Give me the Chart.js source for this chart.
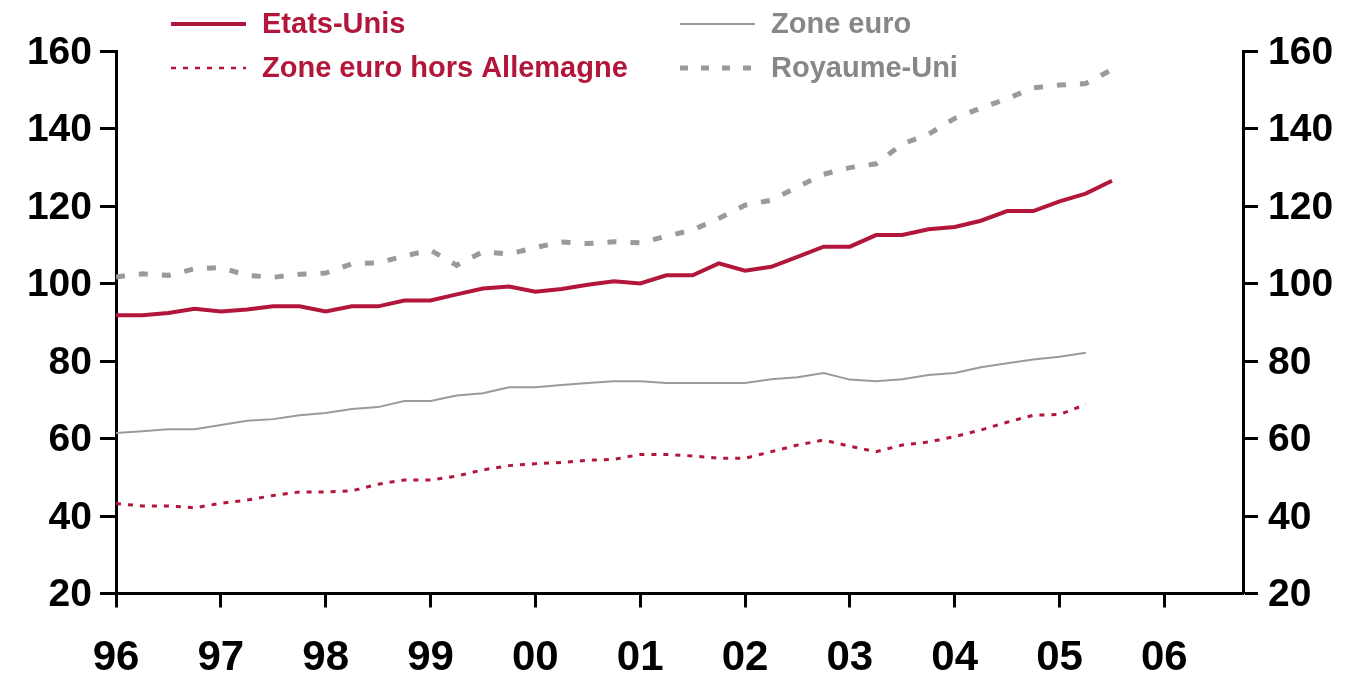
<!DOCTYPE html>
<html>
<head>
<meta charset="utf-8">
<script src="https://cdn.jsdelivr.net/npm/chart.js@4.4.1/dist/chart.umd.min.js"></script>
<style>
  html, body { margin: 0; padding: 0; background: #ffffff; }
  #wrap { position: relative; width: 1355px; height: 675px; }
</style>
</head>
<body>
<div id="wrap"><canvas id="c" width="1355" height="675"></canvas></div>
<script>
// Quarterly observations, first point = 1996 Q1
const yearLabels = ['96','97','98','99','00','01','02','03','04','05','06'];
const etatsUnis = [91.8,91.8,92.4,93.5,92.8,93.3,94.1,94.1,92.8,94.1,94.1,95.6,95.6,97.2,98.7,99.2,
  97.9,98.6,99.7,100.6,100.0,102.1,102.1,105.2,103.3,104.3,106.9,109.5,109.5,112.5,112.5,114.0,
  114.6,116.2,118.7,118.7,121.2,123.2,126.5];
const zoneEuro = [61.4,61.9,62.4,62.4,63.5,64.6,65.0,66.0,66.6,67.6,68.1,69.7,69.7,71.1,71.7,73.2,
  73.2,73.8,74.3,74.8,74.8,74.3,74.3,74.3,74.3,75.3,75.8,76.9,75.2,74.8,75.3,76.4,
  76.9,78.4,79.4,80.4,81.1,82.1];
const zoneEuroHorsAllemagne = [43.2,42.6,42.6,42.1,43.3,44.1,45.3,46.2,46.2,46.5,48.2,49.3,49.3,50.3,51.9,53.0,
  53.5,53.8,54.4,54.6,55.9,55.9,55.5,54.9,54.9,56.6,58.3,59.6,58.0,56.6,58.3,59.1,
  60.5,62.2,64.2,66.0,66.2,68.8];
const royaumeUni = [101.7,102.5,102.1,103.8,104.1,102.1,101.6,102.4,102.7,105.1,105.3,107.1,108.6,104.7,108.2,107.6,
  109.3,110.7,110.3,110.8,110.5,112.2,113.8,116.8,120.2,121.5,124.9,128.2,129.9,130.9,136.0,138.5,
  142.6,145.3,147.7,150.5,151.2,151.6,155.2];

const RED = '#b2173b';
const GREY_LINE = '#9a9a9a';
const GREY_TEXT = '#878787';

const toPoints = arr => arr.map((v, i) => ({ x: i, y: v }));

const legendItems = [
  { text: 'Etats-Unis', color: RED, textColor: RED, width: 4, dash: [], x: 171, y: 24 },
  { text: 'Zone euro hors Allemagne', color: RED, textColor: RED, width: 2.5, dash: [5, 7], x: 171, y: 68 },
  { text: 'Zone euro', color: GREY_LINE, textColor: GREY_TEXT, width: 2, dash: [], x: 680, y: 24 },
  { text: 'Royaume-Uni', color: GREY_LINE, textColor: GREY_TEXT, width: 5, dash: [8, 13], x: 680, y: 68 }
];

const legendPlugin = {
  id: 'customLegend',
  afterDraw(chart) {
    const ctx = chart.ctx;
    ctx.save();
    legendItems.forEach(it => {
      ctx.beginPath();
      ctx.strokeStyle = it.color;
      ctx.lineWidth = it.width;
      ctx.setLineDash(it.dash);
      ctx.moveTo(it.x, it.y);
      ctx.lineTo(it.x + 75, it.y);
      ctx.stroke();
      ctx.setLineDash([]);
      ctx.fillStyle = it.textColor;
      ctx.font = 'bold 29px "Liberation Sans", Arial, sans-serif';
      ctx.textBaseline = 'middle';
      ctx.textAlign = 'left';
      ctx.fillText(it.text, it.x + 91, it.y + 1);
    });
    ctx.restore();
  }
};

const tickFont = { family: '"Liberation Sans", Arial, sans-serif', size: 39, weight: 'bold' };

new Chart(document.getElementById('c'), {
  type: 'line',
  data: {
    datasets: [
      { label: 'Royaume-Uni', data: toPoints(royaumeUni), borderColor: GREY_LINE, borderWidth: 5,
        borderDash: [9, 14], pointRadius: 0, tension: 0, yAxisID: 'y' },
      { label: 'Zone euro', data: toPoints(zoneEuro), borderColor: GREY_LINE, borderWidth: 2,
        pointRadius: 0, tension: 0, yAxisID: 'y' },
      { label: 'Zone euro hors Allemagne', data: toPoints(zoneEuroHorsAllemagne), borderColor: RED, borderWidth: 3,
        borderDash: [5, 7], pointRadius: 0, tension: 0, yAxisID: 'y' },
      { label: 'Etats-Unis', data: toPoints(etatsUnis), borderColor: RED, borderWidth: 4,
        pointRadius: 0, tension: 0, yAxisID: 'y' }
    ]
  },
  options: {
    responsive: false,
    animation: false,
    layout: { padding: { top: 51, left: 0, right: 0, bottom: 0 } },
    plugins: { legend: { display: false }, tooltip: { enabled: false } },
    scales: {
      x: {
        type: 'linear',
        min: 0, max: 43,
        afterBuildTicks(scale) {
          scale.ticks = yearLabels.map((l, i) => ({ value: i * 4 }));
        },
        afterFit(scale) { scale.height = 81.5; },
        ticks: {
          autoSkip: false, maxRotation: 0, color: '#000', font: { ...tickFont, size: 42 }, padding: 26,
          callback: (v, i) => yearLabels[i]
        },
        grid: { drawOnChartArea: false, drawTicks: true, tickLength: 14, tickWidth: 3, color: '#000' },
        border: { display: true, color: '#000', width: 3 }
      },
      y: {
        position: 'left',
        min: 20, max: 160,
        ticks: { stepSize: 20, color: '#000', font: tickFont, padding: 8, labelOffset: 2 },
        afterFit(scale) { scale.width = 116; },
        grid: { drawOnChartArea: false, drawTicks: true, tickLength: 16, tickWidth: 3, color: '#000' },
        border: { display: true, color: '#000', width: 3 }
      },
      y2: {
        position: 'right',
        min: 20, max: 160,
        ticks: { stepSize: 20, color: '#000', font: tickFont, padding: 10, labelOffset: 2 },
        afterFit(scale) { scale.width = 112; },
        grid: { drawOnChartArea: false, drawTicks: true, tickLength: 15, tickWidth: 3, color: '#000' },
        border: { display: true, color: '#000', width: 3 }
      }
    }
  },
  plugins: [legendPlugin]
});
</script>
</body>
</html>
